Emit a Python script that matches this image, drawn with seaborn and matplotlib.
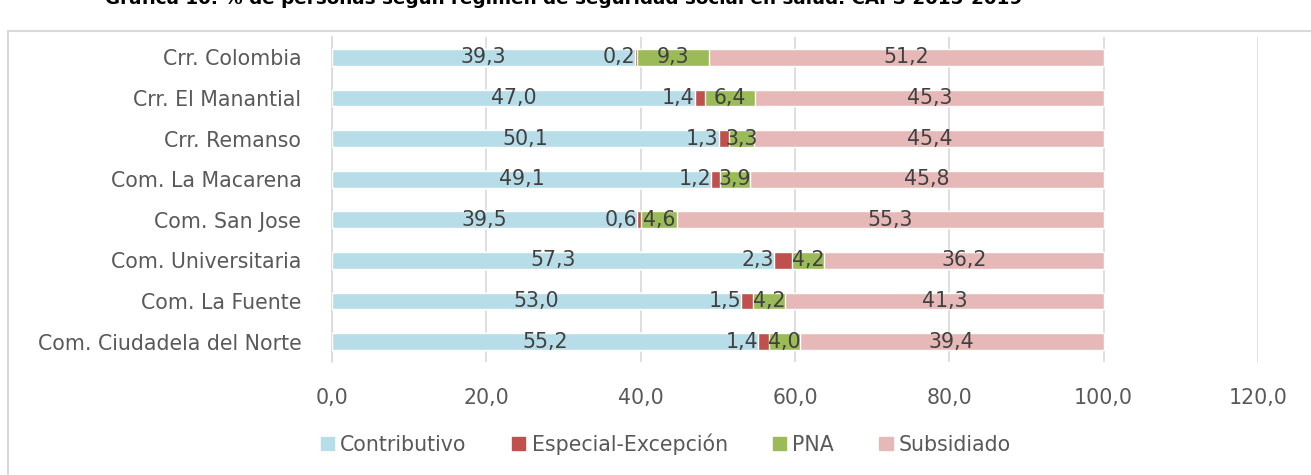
import numpy as np
import pandas as pd
import matplotlib.pyplot as plt
import matplotlib.patches as mpatches
import seaborn as sns

comunas = ["Crr. Colombia", "Crr. El Manantial", "Crr. Remanso", "Com. La Macarena",
           "Com. San Jose", "Com. Universitaria", "Com. La Fuente", "Com. Ciudadela del Norte"]
contributivo = [39.3, 47.0, 50.1, 49.1, 39.5, 57.3, 53.0, 55.2]
especial = [0.2, 1.4, 1.3, 1.2, 0.6, 2.3, 1.5, 1.4]
pna = [9.3, 6.4, 3.3, 3.9, 4.6, 4.2, 4.2, 4.0]
subsidiado = [51.2, 45.3, 45.4, 45.8, 55.3, 36.2, 41.3, 39.4]

series = ["Contributivo", "Especial-Excepción", "PNA", "Subsidiado"]
colors = ["#B7DDE8", "#C0504D", "#9BBB59", "#E6B9B8"]

df = pd.DataFrame({"comuna": comunas, "Contributivo": contributivo,
                   "Especial-Excepción": especial, "PNA": pna, "Subsidiado": subsidiado})
cum = df[series].cumsum(axis=1)

sns.set_style("white")
plt.rcParams["font.family"] = ["DejaVu Sans"]
txt = "#404040"
fs = 14.8

fig = plt.figure(figsize=(13.11, 4.75), dpi=100)
ax = fig.add_axes([332 / 1311, 1 - 362 / 475, (1258 - 332) / 1311, (362 - 37) / 475])

# stacked bars: draw cumulative totals from the widest down
for s, c in zip(series[::-1], colors[::-1]):
    sns.barplot(x=cum[s], y=df["comuna"], orient="h", color=c, width=0.41,
                saturation=1, ax=ax, zorder=3)

# labels
for i in range(len(comunas)):
    ax.text(contributivo[i] / 2, i, f"{contributivo[i]:.1f}".replace(".", ","),
            ha="center", va="center", fontsize=fs, color=txt, zorder=5)
    ax.text(contributivo[i], i, f"{especial[i]:.1f}".replace(".", ","),
            ha="right", va="center", fontsize=fs, color=txt, zorder=5)
    x0 = contributivo[i] + especial[i]
    ax.text(x0 + pna[i] / 2, i, f"{pna[i]:.1f}".replace(".", ","),
            ha="center", va="center", fontsize=fs, color=txt, zorder=5)
    x1 = x0 + pna[i]
    ax.text(x1 + subsidiado[i] / 2, i, f"{subsidiado[i]:.1f}".replace(".", ","),
            ha="center", va="center", fontsize=fs, color=txt, zorder=5)

ax.set_xlim(0, 120)
ax.set_ylim(7.5, -0.5)
ax.set_xticks(np.arange(0, 121, 20))
ax.set_xticklabels([f"{v:.1f}".replace(".", ",") for v in np.arange(0, 121, 20)])
ax.xaxis.grid(True, color="#D9D9D9", linewidth=1.2, zorder=0)
ax.set_axisbelow(True)
for sp in ["top", "right", "bottom"]:
    ax.spines[sp].set_visible(False)
ax.spines["left"].set_color("#D9D9D9")
ax.spines["left"].set_linewidth(1.2)
ax.tick_params(axis="both", length=0, labelsize=fs, labelcolor="#595959")
ax.tick_params(axis="y", pad=22)
ax.tick_params(axis="x", pad=19)
ax.set_xlabel("")
ax.set_ylabel("")

handles = [mpatches.Patch(color=c, label=s) for s, c in zip(series, colors)]
fig.legend(handles=handles, loc="center", bbox_to_anchor=(666 / 1311, 1 - 444 / 475),
           ncol=4, frameon=False, fontsize=fs, handlelength=0.65, handleheight=0.65,
           handletextpad=0.3, columnspacing=2.2, labelcolor="#595959")

# outer frame of the chart area
fig.patches.append(mpatches.Rectangle((8 / 1311, -0.1), 1.2, 1 - 31 / 475 + 0.1,
                                      transform=fig.transFigure, fill=False,
                                      edgecolor="#D9D9D9", linewidth=1.5))

fig.text(564 / 1311, 1.003, "Gráfica 10. % de personas según régimen de seguridad social en salud. CAPS 2015-2019",
         ha="center", va="center", fontsize=13.2, fontweight="bold", color="black")

fig.savefig("out.png", dpi=100)
